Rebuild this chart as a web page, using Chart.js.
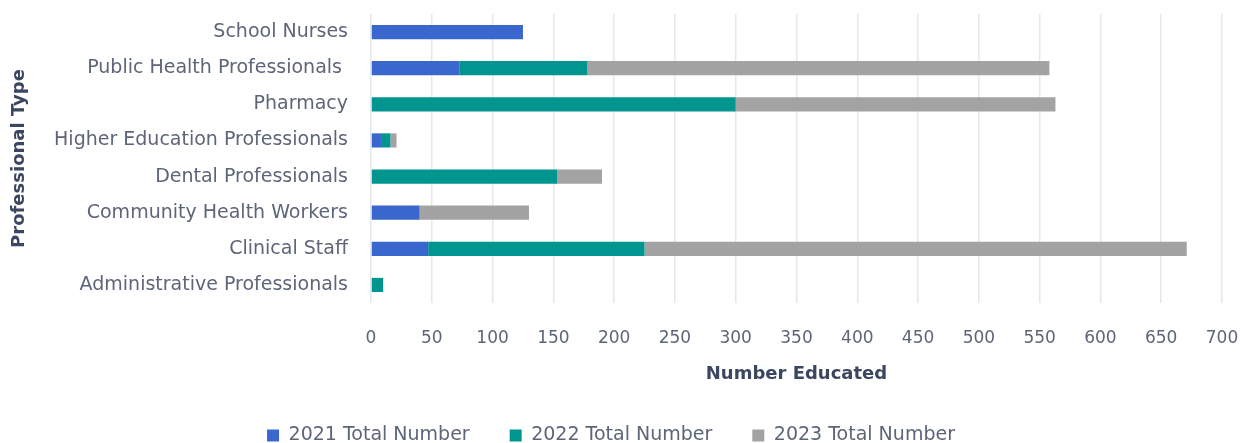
<!DOCTYPE html>
<html>
<head>
<meta charset="utf-8">
<script src="https://cdn.jsdelivr.net/npm/chart.js@4.4.1/dist/chart.umd.min.js"></script>
<style>
  html, body { margin: 0; padding: 0; background: #ffffff; overflow: hidden; }
  #wrap { width: 1241px; height: 443px; position: relative; }
</style>
</head>
<body>
<div id="wrap"><canvas id="canvas"></canvas></div>
<script>
var categories = [
    'School Nurses',
    'Public Health Professionals ',
    'Pharmacy',
    'Higher Education Professionals',
    'Dental Professionals',
    'Community Health Workers',
    'Clinical Staff',
    'Administrative Professionals'
];
var total2021 = [125, 73, 0, 9, 0, 40, 47, 0];
var total2022 = [0, 105, 300, 7, 153, 0, 178, 10];
var total2023 = [0, 380, 263, 5, 37, 90, 446, 0];
var seriesNames = ['2021 Total Number', '2022 Total Number', '2023 Total Number'];
var seriesColors = ['#3a67cd', '#00968f', '#a3a3a3'];

var labelColor = '#5d6579';
var titleColor = '#3b4660';
var fontName = "'DejaVu Sans', sans-serif";

function makeSet(i, values) {
    return {
        label: seriesNames[i],
        data: values,
        backgroundColor: seriesColors[i],
        borderWidth: 0,
        categoryPercentage: 0.8,
        barPercentage: 0.49
    };
}

window.onload = function() {
    var ctx = document.getElementById('canvas').getContext('2d');
    window.myBar = new Chart(ctx, {
        type: 'bar',
        data: {
            labels: categories,
            datasets: [
                makeSet(0, total2021),
                makeSet(1, total2022),
                makeSet(2, total2023)
            ]
        },
        options: {
            indexAxis: 'y',
            responsive: true,
            maintainAspectRatio: false,
            animation: false,
            layout: {
                padding: { top: 14, right: 19, left: 0, bottom: 0 }
            },
            plugins: {
                tooltip: { enabled: false },
                legend: {
                    position: 'bottom',
                    maxHeight: 57,
                    labels: {
                        boxWidth: 12,
                        boxHeight: 12,
                        padding: 40,
                        color: labelColor,
                        font: { family: fontName, size: 19 }
                    }
                }
            },
            scales: {
                x: {
                    stacked: true,
                    min: 0,
                    max: 700,
                    afterFit: function(scale) {
                        scale.height = 83;
                        scale.paddingLeft = 0;
                        scale.paddingRight = 0;
                    },
                    ticks: {
                        stepSize: 50,
                        padding: 25,
                        color: labelColor,
                        font: { family: fontName, size: 17 }
                    },
                    grid: {
                        color: '#e3e7ee',
                        lineWidth: 1.5,
                        drawTicks: false
                    },
                    border: { display: false },
                    title: {
                        display: true,
                        text: 'Number Educated',
                        color: titleColor,
                        padding: { top: 0, bottom: 1 },
                        font: { family: fontName, size: 18, weight: 'bold' }
                    }
                },
                y: {
                    stacked: true,
                    afterFit: function(scale) {
                        scale.width = 371;
                        scale.paddingTop = 0;
                        scale.paddingBottom = 0;
                    },
                    ticks: {
                        padding: 23,
                        color: labelColor,
                        font: { family: fontName, size: 19 }
                    },
                    grid: { display: false, drawTicks: false },
                    border: { display: false },
                    title: {
                        display: true,
                        text: 'Professional Type',
                        color: titleColor,
                        padding: { top: 9, bottom: 0 },
                        font: { family: fontName, size: 18, weight: 'bold' }
                    }
                }
            }
        }
    });
};
</script>
</body>
</html>
